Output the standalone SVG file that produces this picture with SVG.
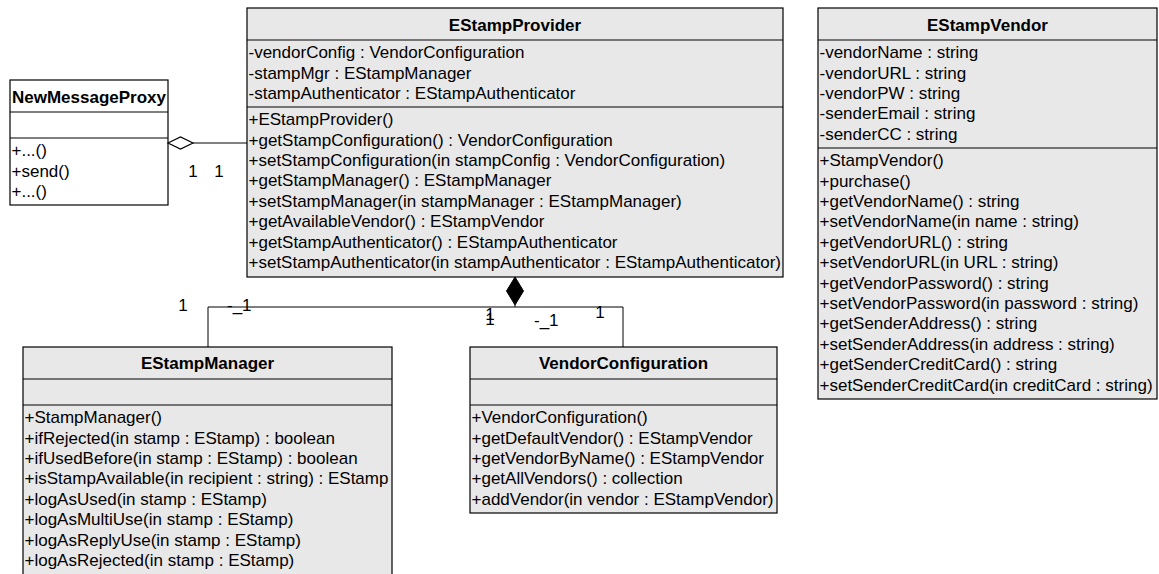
<svg xmlns="http://www.w3.org/2000/svg" width="1159" height="574" viewBox="0 0 1159 574">
<style>
.box{fill:#e8e8e8;stroke:#000;stroke-width:1.2}
.wbox{fill:#fff;stroke:#000;stroke-width:1.2}
.dv{stroke:#000;stroke-width:1.2}
text{font-family:"Liberation Sans",Arial,sans-serif;font-size:17px;fill:#000}
.t{font-weight:bold;text-anchor:middle}
.m{text-anchor:middle}
.c{fill:none;stroke:#000;stroke-width:1}
</style>
<rect width="1159" height="574" fill="#fff"/>

<g id="NewMessageProxy">
<rect class="wbox" x="10" y="80" width="158" height="125"/>
<line class="dv" x1="10" y1="112" x2="168" y2="112"/>
<line class="dv" x1="10" y1="138" x2="168" y2="138"/>
<text class="t" x="89" y="102.5">NewMessageProxy</text>
<text x="11.5" y="156.2">+...()</text>
<text x="11.5" y="176.6">+send()</text>
<text x="11.5" y="197">+...()</text>
</g>

<g id="EStampProvider">
<rect class="box" x="247" y="8" width="536" height="269"/>
<line class="dv" x1="247" y1="40" x2="783" y2="40"/>
<line class="dv" x1="247" y1="107" x2="783" y2="107"/>
<text class="t" x="515" y="30.5">EStampProvider</text>
<text x="248.5" y="58.2">-vendorConfig : VendorConfiguration</text>
<text x="248.5" y="78.6">-stampMgr : EStampManager</text>
<text x="248.5" y="99">-stampAuthenticator : EStampAuthenticator</text>
<text x="248.5" y="125.2">+EStampProvider()</text>
<text x="248.5" y="145.6">+getStampConfiguration() : VendorConfiguration</text>
<text x="248.5" y="166">+setStampConfiguration(in stampConfig : VendorConfiguration)</text>
<text x="248.5" y="186.4">+getStampManager() : EStampManager</text>
<text x="248.5" y="206.8">+setStampManager(in stampManager : EStampManager)</text>
<text x="248.5" y="227.2">+getAvailableVendor() : EStampVendor</text>
<text x="248.5" y="247.6">+getStampAuthenticator() : EStampAuthenticator</text>
<text x="248.5" y="268">+setStampAuthenticator(in stampAuthenticator : EStampAuthenticator)</text>
</g>

<g id="EStampVendor">
<rect class="box" x="818" y="8" width="339" height="391"/>
<line class="dv" x1="818" y1="40" x2="1157" y2="40"/>
<line class="dv" x1="818" y1="148" x2="1157" y2="148"/>
<text class="t" x="987.5" y="30.5">EStampVendor</text>
<text x="819.5" y="58.2">-vendorName : string</text>
<text x="819.5" y="78.6">-vendorURL : string</text>
<text x="819.5" y="99">-vendorPW : string</text>
<text x="819.5" y="119.4">-senderEmail : string</text>
<text x="819.5" y="139.8">-senderCC : string</text>
<text x="819.5" y="166.2">+StampVendor()</text>
<text x="819.5" y="186.6">+purchase()</text>
<text x="819.5" y="207">+getVendorName() : string</text>
<text x="819.5" y="227.4">+setVendorName(in name : string)</text>
<text x="819.5" y="247.8">+getVendorURL() : string</text>
<text x="819.5" y="268.2">+setVendorURL(in URL : string)</text>
<text x="819.5" y="288.6">+getVendorPassword() : string</text>
<text x="819.5" y="309">+setVendorPassword(in password : string)</text>
<text x="819.5" y="329.4">+getSenderAddress() : string</text>
<text x="819.5" y="349.8">+setSenderAddress(in address : string)</text>
<text x="819.5" y="370.2">+getSenderCreditCard() : string</text>
<text x="819.5" y="390.6">+setSenderCreditCard(in creditCard : string)</text>
</g>

<g id="EStampManager">
<rect class="box" x="23" y="347" width="369" height="240"/>
<line class="dv" x1="23" y1="379" x2="392" y2="379"/>
<line class="dv" x1="23" y1="405" x2="392" y2="405"/>
<text class="t" x="207.5" y="369">EStampManager</text>
<text x="24.5" y="423.2">+StampManager()</text>
<text x="24.5" y="443.6">+ifRejected(in stamp : EStamp) : boolean</text>
<text x="24.5" y="464">+ifUsedBefore(in stamp : EStamp) : boolean</text>
<text x="24.5" y="484.4">+isStampAvailable(in recipient : string) : EStamp</text>
<text x="24.5" y="504.8">+logAsUsed(in stamp : EStamp)</text>
<text x="24.5" y="525.2">+logAsMultiUse(in stamp : EStamp)</text>
<text x="24.5" y="545.6">+logAsReplyUse(in stamp : EStamp)</text>
<text x="24.5" y="566">+logAsRejected(in stamp : EStamp)</text>
</g>

<g id="VendorConfiguration">
<rect class="box" x="470" y="347" width="307" height="166"/>
<line class="dv" x1="470" y1="379" x2="777" y2="379"/>
<line class="dv" x1="470" y1="405" x2="777" y2="405"/>
<text class="t" x="623.5" y="369">VendorConfiguration</text>
<text x="471.5" y="423.2">+VendorConfiguration()</text>
<text x="471.5" y="443.6">+getDefaultVendor() : EStampVendor</text>
<text x="471.5" y="464">+getVendorByName() : EStampVendor</text>
<text x="471.5" y="484.4">+getAllVendors() : collection</text>
<text x="471.5" y="504.8">+addVendor(in vendor : EStampVendor)</text>
</g>

<g id="connectors">
<line class="c" x1="193" y1="143" x2="247" y2="143"/>
<polygon points="168,143 180.5,137 193,143 180.5,149" fill="#fff" stroke="#000" stroke-width="1.2"/>
<text class="m" x="193" y="177">1</text>
<text class="m" x="219" y="177">1</text>

<polygon points="515,277 523.5,291 515,305 506.5,291" fill="#000" stroke="#000" stroke-width="1"/>
<path class="c" d="M515,305 V307 H208 V347" stroke-width="2"/>
<path class="c" d="M515,307 H623 V347"/>
<text class="m" x="183" y="311">1</text>
<text x="227" y="311">-_1</text>
<text class="m" x="490" y="320">1</text>
<text class="m" x="490" y="325">1</text>
<text x="534" y="326">-_1</text>
<text class="m" x="600" y="318">1</text>
</g>
</svg>
